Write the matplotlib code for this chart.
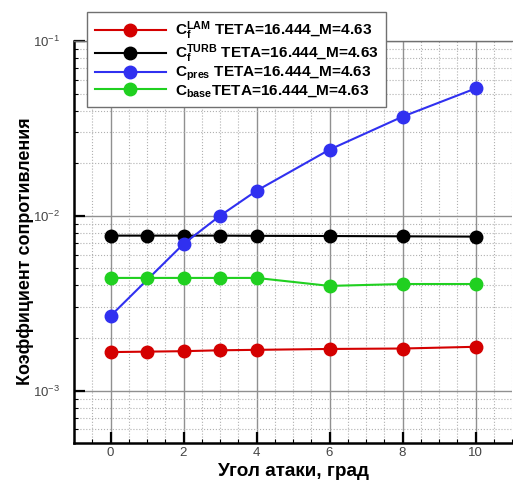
import matplotlib

matplotlib.use("Agg")
import matplotlib.pyplot as plt
from matplotlib.ticker import MultipleLocator, LogLocator, NullFormatter

plt.rcParams["font.family"] = ["Liberation Sans", "DejaVu Sans"]
plt.rcParams["mathtext.fontset"] = "custom"
plt.rcParams["mathtext.rm"] = "Liberation Sans"
plt.rcParams["mathtext.bf"] = "Liberation Sans:bold"

x_lam = [0, 1, 2, 3, 4, 6, 8, 10]
cf_lam = [1.66e-3, 1.67e-3, 1.68e-3, 1.70e-3, 1.71e-3, 1.73e-3, 1.74e-3, 1.78e-3]
x_turb = [0, 1, 2, 3, 4, 6, 8, 10]
cf_turb = [7.7e-3, 7.7e-3, 7.7e-3, 7.7e-3, 7.68e-3, 7.66e-3, 7.63e-3, 7.6e-3]
x_pres = [0, 2, 3, 4, 6, 8, 10]
c_pres = [2.67e-3, 6.9e-3, 1.0e-2, 1.39e-2, 2.39e-2, 3.69e-2, 5.35e-2]
x_base = [0, 1, 2, 3, 4, 6, 8, 10]
c_base = [4.41e-3, 4.41e-3, 4.41e-3, 4.41e-3, 4.41e-3, 3.97e-3, 4.07e-3, 4.07e-3]

labels = [
    r"$\mathbf{C_f^{LAM}}$ TETA=16.444_M=4.63",
    r"$\mathbf{C_f^{TURB}}$ TETA=16.444_M=4.63",
    r"$\mathbf{C_{pres}}$ TETA=16.444_M=4.63",
    r"$\mathbf{C_{base}}$TETA=16.444_M=4.63",
]
colors = ["#d40000", "#000000", "#3030f0", "#20d020"]

fig = plt.figure(figsize=(5.13, 4.8), dpi=100)
ax = fig.add_axes([74 / 513, 37 / 480, 438 / 513, 402 / 480])

series = [(x_lam, cf_lam), (x_turb, cf_turb), (x_pres, c_pres), (x_base, c_base)]
for (xs, ys), lab, col in zip(series, labels, colors):
    ax.plot(xs, ys, color=col, linewidth=1.5, marker="o", markersize=9,
            label=lab, zorder=3)

ax.set_yscale("log")
ax.set_xlim(-1, 11)
ax.set_ylim(10 ** -3.3, 1e-1)
ax.xaxis.set_major_locator(MultipleLocator(2))
ax.xaxis.set_minor_locator(MultipleLocator(0.5))
ax.yaxis.set_minor_locator(LogLocator(base=10, subs=range(2, 10)))
ax.yaxis.set_minor_formatter(NullFormatter())

ax.grid(True, which="major", color="#909090", linewidth=1.0, linestyle="-")
ax.grid(True, which="minor", color="#b0b0b0", linewidth=0.8, linestyle=":")
ax.set_axisbelow(True)

ax.tick_params(which="major", direction="in", length=8, width=1.6, color="black",
               labelsize=9.5, labelcolor="#444444")
ax.tick_params(axis="x", which="major", pad=3)
ax.tick_params(axis="y", which="major", pad=10)
ax.tick_params(which="minor", direction="in", length=3, width=0.8, color="black")

for side in ("left", "bottom"):
    ax.spines[side].set_linewidth(1.8)
ax.spines["top"].set_color("#707070")
ax.spines["top"].set_linewidth(1.0)
ax.spines["right"].set_visible(False)

ax.set_xlabel("Угол атаки, град", fontsize=13.6, fontweight="bold")
ax.xaxis.set_label_coords(0.5, -0.05)
ax.xaxis.label.set_va("top")
ax.set_ylabel("Коэффициент сопротивления", fontsize=12.9, fontweight="bold")
ax.yaxis.set_label_coords(-0.092, 0.478)

leg = ax.legend(loc="upper left", bbox_to_anchor=(0.03, 1.072), borderaxespad=0,
                fancybox=False, framealpha=1, edgecolor="#707070",
                prop={"weight": "bold", "size": 11.1}, handlelength=4.6,
                handletextpad=0.6, labelspacing=0.0, borderpad=0.5)
leg.get_frame().set_linewidth(1.0)

fig.savefig("out.png")
